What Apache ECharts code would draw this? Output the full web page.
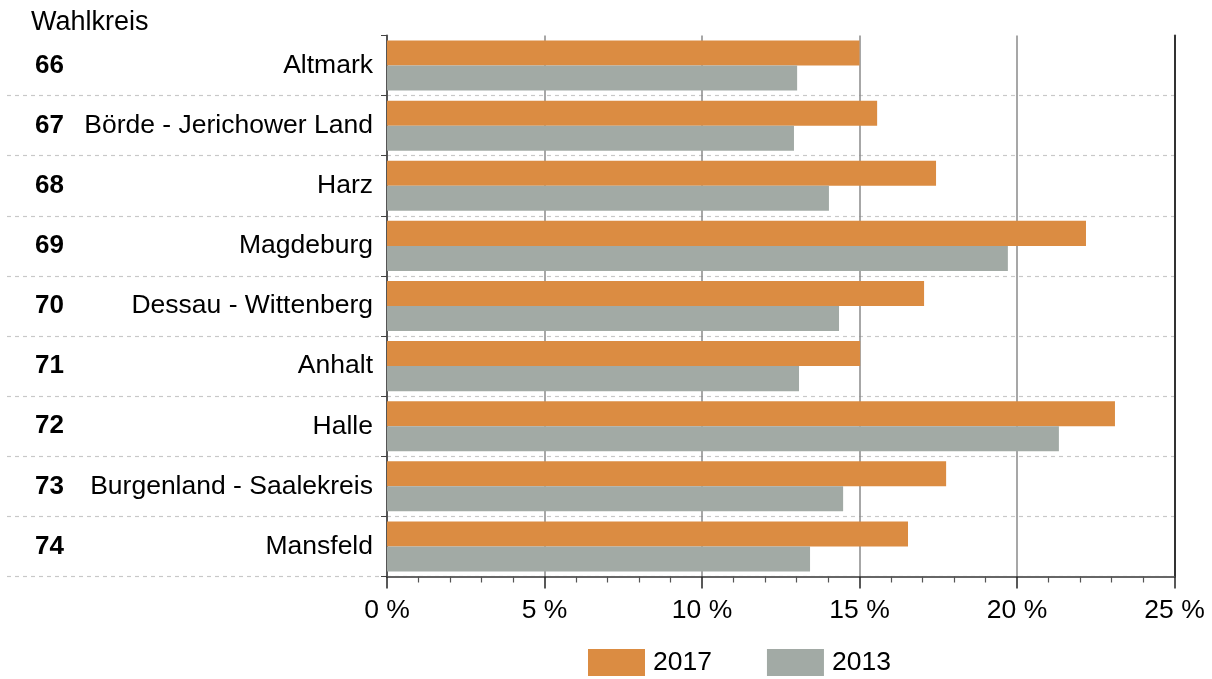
<!DOCTYPE html>
<html><head><meta charset="utf-8">
<script src="https://cdn.jsdelivr.net/npm/echarts@6/dist/echarts.min.js"></script>
<style>html,body{margin:0;padding:0;background:#fff}#c{width:1212px;height:679px}</style>
</head><body><div id="c"></div>
<script>
const districtNumbers = ['66','67','68','69','70','71','72','73','74'];
const districtNames = ['Altmark','Börde - Jerichower Land','Harz','Magdeburg','Dessau - Wittenberg','Anhalt','Halle','Burgenland - Saalekreis','Mansfeld'];
const values2017 = [15.0, 15.56, 17.43, 22.19, 17.05, 15.02, 23.11, 17.75, 16.54];
const values2013 = [13.02, 12.92, 14.03, 19.71, 14.35, 13.08, 21.33, 14.48, 13.43];
const xTicks = [0, 5, 10, 15, 20, 25];

const FONT = 'Liberation Sans, Arial, sans-serif';
const chart = echarts.init(document.getElementById('c'));
const dashed = {show: true, interval: function (i) { return i > 0; }, lineStyle: {color: '#c8c8c8', type: [4, 4], width: 1.2}};
chart.setOption({
  animation: false,
  textStyle: {fontFamily: FONT},
  title: {text: 'Wahlkreis', left: 26, top: 4, textStyle: {fontFamily: FONT, fontSize: 27, fontWeight: 'normal', color: '#000'}},
  legend: {
    data: ['2017', '2013'], left: 583, top: 644, itemWidth: 57, itemHeight: 27, itemGap: 55,
    icon: 'rect', textStyle: {fontFamily: FONT, fontSize: 26.5, color: '#000', padding: [0, 0, 0, 3]}
  },
  grid: [
    {left: 387, right: 37.5, top: 35.5, bottom: 102.5},
    {left: 7, width: 380, top: 35.5, bottom: 102.5}
  ],
  xAxis: [
    {
      type: 'value', gridIndex: 0, min: xTicks[0], max: xTicks[xTicks.length - 1], interval: 5,
      axisLine: {show: true, lineStyle: {color: '#666', width: 2}},
      axisTick: {show: true, length: 12, lineStyle: {color: '#222', width: 1.5}},
      minorTick: {show: true, splitNumber: 5, length: 6, lineStyle: {color: '#555', width: 1.2}},
      splitLine: {show: true, lineStyle: {color: '#8a8a8a', width: 1.5}},
      axisLabel: {formatter: '{value} %', fontSize: 26.5, color: '#000', margin: 21, fontFamily: FONT}
    },
    {type: 'value', gridIndex: 1, show: false}
  ],
  yAxis: [
    {
      type: 'category', gridIndex: 0, inverse: true, data: districtNames,
      axisLine: {show: true, lineStyle: {color: '#555', width: 2}},
      axisTick: {show: true, length: 6, lineStyle: {color: '#444'}},
      splitLine: dashed,
      axisLabel: {fontSize: 26.5, color: '#000', margin: 14, fontFamily: FONT, padding: [3, 0, 0, 0]}
    },
    {
      type: 'category', gridIndex: 1, inverse: true, data: districtNumbers,
      axisLine: {show: false}, axisTick: {show: false},
      splitLine: dashed,
      axisLabel: {inside: true, margin: 28, fontSize: 26, fontWeight: 'bold', color: '#000', fontFamily: FONT, padding: [3, 0, 0, 0]}
    },
    {
      type: 'category', gridIndex: 0, position: 'right', inverse: true, data: districtNames,
      axisLine: {show: true, lineStyle: {color: '#333', width: 2}},
      axisTick: {show: false}, axisLabel: {show: false}, splitLine: {show: false}
    }
  ],
  series: [
    {name: '2017', type: 'bar', xAxisIndex: 0, yAxisIndex: 0, data: values2017, barGap: '0%', barCategoryGap: '16.7%', itemStyle: {color: '#DB8C42'}},
    {name: '2013', type: 'bar', xAxisIndex: 0, yAxisIndex: 0, data: values2013, barGap: '0%', barCategoryGap: '16.7%', itemStyle: {color: '#A2AAA5'}}
  ]
});
</script></body></html>
